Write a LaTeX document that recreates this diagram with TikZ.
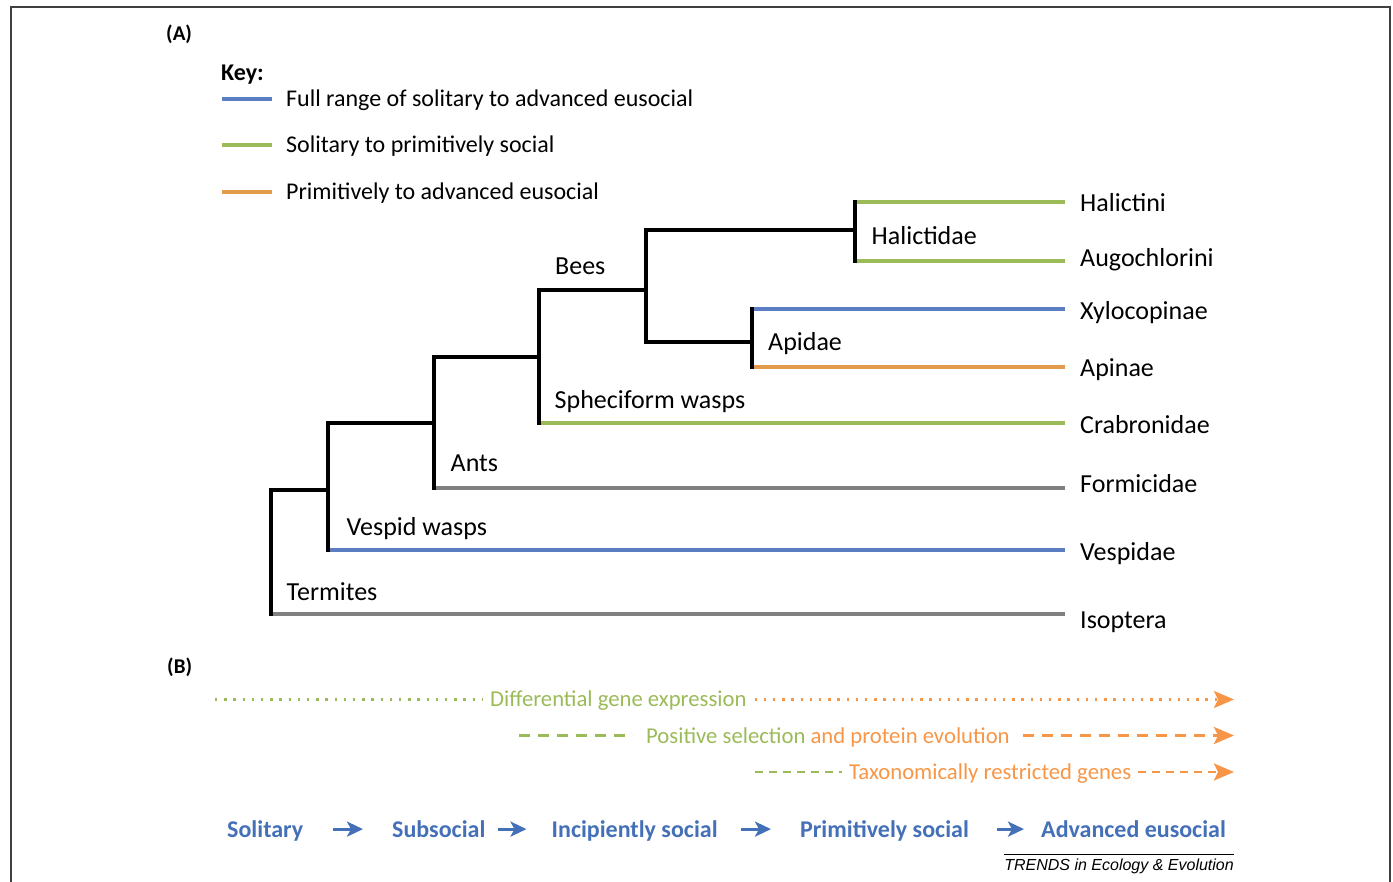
\documentclass[tikz,border=0pt]{standalone}
\usepackage{fontspec}
\setmainfont{Carlito}
\newfontfamily\trendsfont{Liberation Sans}
\usetikzlibrary{arrows.meta}
\definecolor{fullblue}{HTML}{5B7EC2}
\definecolor{solgreen}{HTML}{9BBB59}
\definecolor{euorange}{HTML}{E29B4C}
\definecolor{outgray}{HTML}{808080}
\definecolor{textgreen}{HTML}{9BBB59}
\definecolor{textorange}{HTML}{F79646}
\definecolor{stageblue}{HTML}{4470B8}
\tikzset{
  tree/.style={line width=3.5pt,line cap=rect},
  leaf/.style={line width=4pt},
  taxon/.style={anchor=base west,inner xsep=15pt,inner ysep=0pt,font=\fontsize{26}{30}\selectfont},
  clade/.style={anchor=base west,inner sep=0pt,font=\fontsize{26}{30}\selectfont},
  keytext/.style={anchor=base west,inner xsep=14pt,inner ysep=0pt,font=\fontsize{24}{28}\selectfont},
  panel/.style={anchor=base west,inner sep=0pt,font=\fontsize{21}{25}\selectfont\bfseries},
  trait/.style={anchor=base west,inner ysep=0pt,font=\fontsize{22.7}{26}\selectfont},
  dots/.style={line width=2.4pt,dash pattern=on 2.4pt off 6.8pt},
  longdash/.style={line width=3pt,dash pattern=on 11pt off 8pt},
  shortdash/.style={line width=2.6pt,dash pattern=on 8pt off 6pt},
  tip/.style={-{Stealth[length=20pt,width=17pt,inset=4pt]}},
  stage/.style={anchor=base west,inner sep=0pt,text=stageblue,font=\fontsize{24}{28}\selectfont\bfseries},
  stagearrow/.style={stageblue,line width=3pt,-{Stealth[length=16pt,width=15pt,inset=4pt]}}
}
\begin{document}
\begin{tikzpicture}[x=1pt,y=-1pt]
\useasboundingbox (0,0) rectangle (1393,882);
\draw[line width=1.2pt,black!75] (11,882) -- (11,7) -- (1390,7) -- (1390,882);

% (A) key
\node[panel] (A) at (166,40.5) {(A)};
\node[panel,font=\fontsize{24}{28}\selectfont\bfseries] (key) at (221,81) {Key:};
\coordinate (k1) at (222,99); \coordinate (k2) at (222,145); \coordinate (k3) at (222,192);
\node[keytext] (kfull) at (272,107) {Full range of solitary to advanced eusocial};
\node[keytext] (ksol) at (272,153) {Solitary to primitively social};
\node[keytext] (kpri) at (272,199.5) {Primitively to advanced eusocial};
\draw[leaf,fullblue] (k1) -- (k1 -| kfull.west);
\draw[leaf,solgreen] (k2) -- (k2 -| ksol.west);
\draw[leaf,euorange] (k3) -- (k3 -| kpri.west);

% tree
\coordinate (r1) at (271,490); \coordinate (r2) at (271,614);
\coordinate (a1) at (328,423); \coordinate (a2) at (328,550);
\coordinate (b1) at (434,357); \coordinate (b2) at (434,488);
\coordinate (c1) at (539,290); \coordinate (c2) at (539,423);
\coordinate (d1) at (646,230); \coordinate (d2) at (646,342);
\coordinate (h1) at (855,202); \coordinate (h2) at (855,261);
\coordinate (p1) at (752,309); \coordinate (p2) at (752,367);

\node[taxon] (halictini) at (1065,211.7) {Halictini};
\node[taxon] (augo) at (1065,266.7) {Augochlorini};
\node[taxon] (xylo) at (1065,319.3) {Xylocopinae};
\node[taxon] (apinae) at (1065,376.7) {Apinae};
\node[taxon] (crab) at (1065,434) {Crabronidae};
\node[taxon] (formi) at (1065,492.7) {Formicidae};
\node[taxon] (vespidae) at (1065,560.7) {Vespidae};
\node[taxon] (isoptera) at (1065,628.3) {Isoptera};

\node[clade] (halictidae) at (871.5,245) {Halictidae};
\node[clade] (apidae) at (768,351) {Apidae};
\node[clade] (bees) at (555,275) {Bees};
\node[clade] (spheci) at (554.5,408.3) {Spheciform wasps};
\node[clade] (ants) at (450.5,472) {Ants};
\node[clade] (vespid) at (346.5,536) {Vespid wasps};
\node[clade] (termites) at (286.5,600.7) {Termites};

\draw[leaf,outgray] (r2) -- (r2 -| isoptera.west);
\draw[leaf,fullblue] (a2) -- (a2 -| vespidae.west);
\draw[leaf,outgray] (b2) -- (b2 -| formi.west);
\draw[leaf,solgreen] (c2) -- (c2 -| crab.west);
\draw[leaf,fullblue] (p1) -- (p1 -| xylo.west);
\draw[leaf,euorange] (p2) -- (p2 -| apinae.west);
\draw[leaf,solgreen] (h1) -- (h1 -| halictini.west);
\draw[leaf,solgreen] (h2) -- (h2 -| augo.west);

\draw[tree] (r2) -- (r1) -- (r1 -| a1);
\draw[tree] (a2) -- (a1) -- (a1 -| b1);
\draw[tree] (b2) -- (b1) -- (b1 -| c1);
\draw[tree] (c2) -- (c1) -- (c1 -| d1);
\draw[tree] (d1 -| h1) -- (d1) -- (d2) -- (d2 -| p1);
\draw[tree] (h1) -- (h2);
\draw[tree] (p1) -- (p2);

% (B) molecular signatures
\node[panel] (B) at (167,673) {(B)};
\coordinate (diffL) at (215,699.5); \coordinate (diffR) at (1234,699.5);
\node[trait,text=textgreen,inner xsep=8pt] (diff) at (482,706.7) {Differential gene expression};
\draw[dots,textgreen] (diffL) -- (diffL -| diff.west);
\draw[dots,textorange,tip] (diff.east |- diffL) -- (diffR);

\coordinate (posL) at (519,735.5); \coordinate (posR) at (1234,735.5);
\node[trait,text=textgreen,inner xsep=13pt] (pos) at (633,743) {Positive selection \textcolor{textorange}{and protein evolution}};
\draw[longdash,textgreen] (posL) -- (posL -| pos.west);
\draw[longdash,textorange,tip] (pos.east |- posL) -- (posR);

\coordinate (taxL) at (755,772); \coordinate (taxR) at (1234,772);
\node[trait,text=textorange,inner xsep=7pt] (tax) at (842,779.5) {Taxonomically restricted genes};
\draw[shortdash,textgreen] (taxL) -- (taxL -| tax.west);
\draw[shortdash,textorange,tip] (tax.east |- taxL) -- (taxR);

% stages
\node[stage] (solitary) at (227,837) {Solitary};
\node[stage] (subsocial) at (392,837) {Subsocial};
\node[stage] (incip) at (551.5,837) {Incipiently social};
\node[stage] (prim) at (800,837) {Primitively social};
\node[stage] (adv) at (1041,837) {Advanced eusocial};
\draw[stagearrow,shorten <=30pt,shorten >=29pt] ([yshift=5.5pt]solitary.mid east) -- ([yshift=5.5pt]subsocial.mid west);
\draw[stagearrow,shorten <=12pt,shorten >=25pt] ([yshift=5.5pt]subsocial.mid east) -- ([yshift=5.5pt]incip.mid west);
\draw[stagearrow,shorten <=23pt,shorten >=29pt] ([yshift=5.5pt]incip.mid east) -- ([yshift=5.5pt]prim.mid west);
\draw[stagearrow,shorten <=28pt,shorten >=17pt] ([yshift=5.5pt]prim.mid east) -- ([yshift=5.5pt]adv.mid west);

\node[anchor=base east,inner xsep=0pt,inner ysep=4pt,font=\trendsfont\itshape\fontsize{16}{19}\selectfont] (trends) at (1234,870) {TRENDS in Ecology \& Evolution};
\draw[line width=1pt] (trends.north west) -- (trends.north east);
\end{tikzpicture}
\end{document}
